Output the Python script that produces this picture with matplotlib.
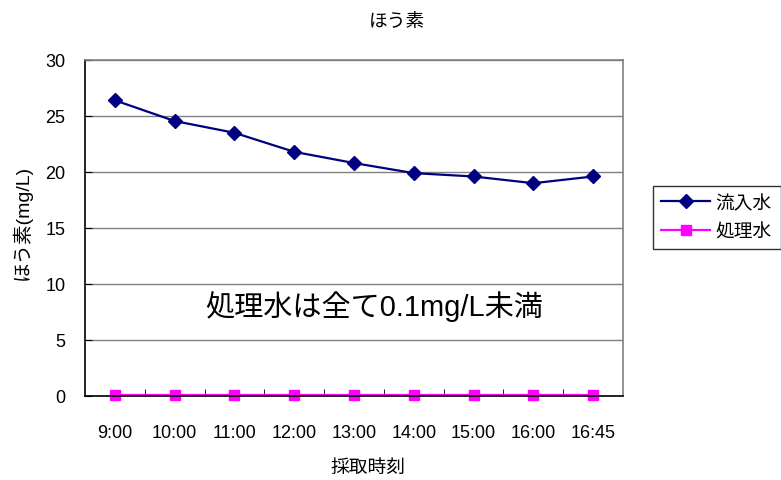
import matplotlib
matplotlib.use("Agg")
import matplotlib.pyplot as plt

plt.rcParams['font.family'] = ['Liberation Sans', 'Noto Sans CJK JP', 'DejaVu Sans']

times = ["9:00", "10:00", "11:00", "12:00", "13:00", "14:00", "15:00", "16:00", "16:45"]
inflow = [26.4, 24.55, 23.5, 21.8, 20.8, 19.9, 19.6, 19.0, 19.6]
treated = [0.1, 0.1, 0.1, 0.1, 0.1, 0.1, 0.1, 0.1, 0.1]
series_names = ["流入水", "処理水"]
title = "ほう素"
ylabel = "ほう素(mg/L)"
xlabel = "採取時刻"
note = "処理水は全て0.1mg/L未満"

fig = plt.figure(figsize=(7.81, 4.81), dpi=100)
ax = fig.add_axes([85/781, 1-397/481, (623-85)/781, (397-61)/481])

x = list(range(len(times)))
l1, = ax.plot(x, inflow, color='#000080', marker='D', markersize=7, linewidth=1.6, clip_on=False)
l2, = ax.plot(x, treated, color='#FF00FF', marker='s', markersize=7.5, linewidth=1.6, clip_on=False)

ax.set_xlim(-0.5, len(times) - 0.5)
ax.set_ylim(0, 30)
ax.set_yticks([0, 5, 10, 15, 20, 25, 30])
ax.set_xticks(x)
ax.set_xticklabels(times)
ax.set_xticks([i + 0.5 for i in x[:-1]], minor=True)
ax.tick_params(axis='x', which='major', length=0, pad=20, labelsize=13)
ax.tick_params(axis='x', which='minor', length=5, direction='in', color='black')
ax.tick_params(axis='y', length=5, direction='in', pad=14, labelsize=13)
ax.yaxis.grid(True, color='#808080', linewidth=1)
ax.set_axisbelow(True)
for s in ['top', 'right']:
    ax.spines[s].set_color('#808080')
    ax.spines[s].set_linewidth(1.2)
for s in ['left', 'bottom']:
    ax.spines[s].set_color('black')
    ax.spines[s].set_linewidth(1.2)

fig.text(397/781, 1-22/481, title, ha='center', va='center', fontsize=13.5)
fig.text(22/781, 1-222/481, ylabel, ha='center', va='center', rotation=90, fontsize=14)
fig.text(368/781, 1-468/481, xlabel, ha='center', va='center', fontsize=13.5)
fig.text(374/781, 1-307/481, note, ha='center', va='center', fontsize=21)

leg = fig.legend([l1, l2], series_names, loc='upper left',
                 bbox_to_anchor=(653/781, 1-187/481), fontsize=13.5,
                 frameon=True, fancybox=False, edgecolor='black',
                 borderpad=0.45, handlelength=2.6, handletextpad=0.3,
                 labelspacing=0.6, borderaxespad=0)
leg.get_frame().set_linewidth(1)

fig.savefig("out.png", dpi=100)
